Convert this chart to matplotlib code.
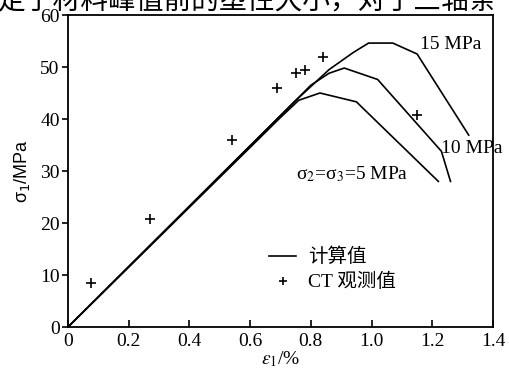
import matplotlib
matplotlib.use("Agg")
import matplotlib.pyplot as plt
from matplotlib.lines import Line2D

# 计算曲线 (ε1 %, σ1 MPa)
eps_5 = [0, 0.70, 0.76, 0.83, 0.95, 1.22]
sig_5 = [0, 40.3, 43.6, 45.0, 43.3, 28.0]
eps_10 = [0, 0.72, 0.80, 0.86, 0.91, 1.02, 1.23, 1.26]
sig_10 = [0, 41.8, 46.5, 48.8, 49.8, 47.6, 33.8, 28.0]
eps_15 = [0, 0.74, 0.86, 0.94, 0.99, 1.07, 1.15, 1.32]
sig_15 = [0, 43.0, 49.5, 52.8, 54.6, 54.6, 52.5, 36.9]

# CT 观测值
ct_eps = [0.075, 0.27, 0.54, 0.69, 0.75, 0.78, 0.84, 1.15]
ct_sig = [8.4, 20.8, 36.0, 46.0, 48.9, 49.4, 52.0, 40.8]

xticks = [0, 0.2, 0.4, 0.6, 0.8, 1.0, 1.2, 1.4]
xtick_labels = ["0", "0.2", "0.4", "0.6", "0.8", "1.0", "1.2", "1.4"]
yticks = [0, 10, 20, 30, 40, 50, 60]

serif = ["Liberation Serif", "Noto Sans CJK SC"]

fig = plt.figure(figsize=(5.09, 3.76), dpi=100)
ax = fig.add_axes([68 / 509, 49 / 376, 425 / 509, 312 / 376])

for e, s in [(eps_5, sig_5), (eps_10, sig_10), (eps_15, sig_15)]:
    ax.plot(e, s, color="black", lw=1.2, solid_joinstyle="round")
ax.plot(ct_eps, ct_sig, "+", color="black", ms=7, mew=1.2, clip_on=False)

ax.set_xlim(0, 1.4)
ax.set_ylim(0, 60)
ax.set_xticks(xticks)
ax.set_xticklabels(xtick_labels)
ax.set_yticks(yticks)
for sp in ax.spines.values():
    sp.set_linewidth(1.3)
ax.tick_params(axis="x", direction="in", length=5, width=1.2, pad=4)
ax.tick_params(axis="y", direction="out", length=4, width=1.2, pad=2)
for lab in ax.get_xticklabels() + ax.get_yticklabels():
    lab.set_family(serif)
    lab.set_fontsize(14)

ax.set_xlabel(r"$\varepsilon_1$/%", family=serif, fontsize=14,
              math_fontfamily="stix", labelpad=0)
ax.set_ylabel(r"σ$_1$/MPa", family="Liberation Sans", fontsize=13,
              math_fontfamily="dejavusans", labelpad=6)

ax.text(1.16, 54.3, "15 MPa", family=serif, fontsize=14, va="center")
ax.text(1.23, 34.4, "10 MPa", family=serif, fontsize=14, va="center",
        clip_on=False)
ax.text(0.75, 29.3, r"σ$_2$=σ$_3$=5 MPa", family=serif, fontsize=14,
        va="center", math_fontfamily="stix")

handles = [Line2D([], [], color="black", lw=1.2),
           Line2D([], [], ls="none", marker="+", color="black", ms=6, mew=1.2)]
ax.legend(handles, ["计算值", "CT 观测值"], loc="upper left",
          bbox_to_anchor=(0.45, 0.285), frameon=False, handlelength=1.4,
          handletextpad=0.6, labelspacing=0.35, borderpad=0,
          prop={"family": serif, "size": 14})

# 页面上方被截掉的正文
fig.text(-0.005, 1 - 9 / 376, "定了材料峰值前的塑性大小，对于三轴条",
         family=["Noto Sans CJK SC"], fontsize=20, fontweight="light",
         va="baseline")

fig.savefig("out.png", dpi=100)
